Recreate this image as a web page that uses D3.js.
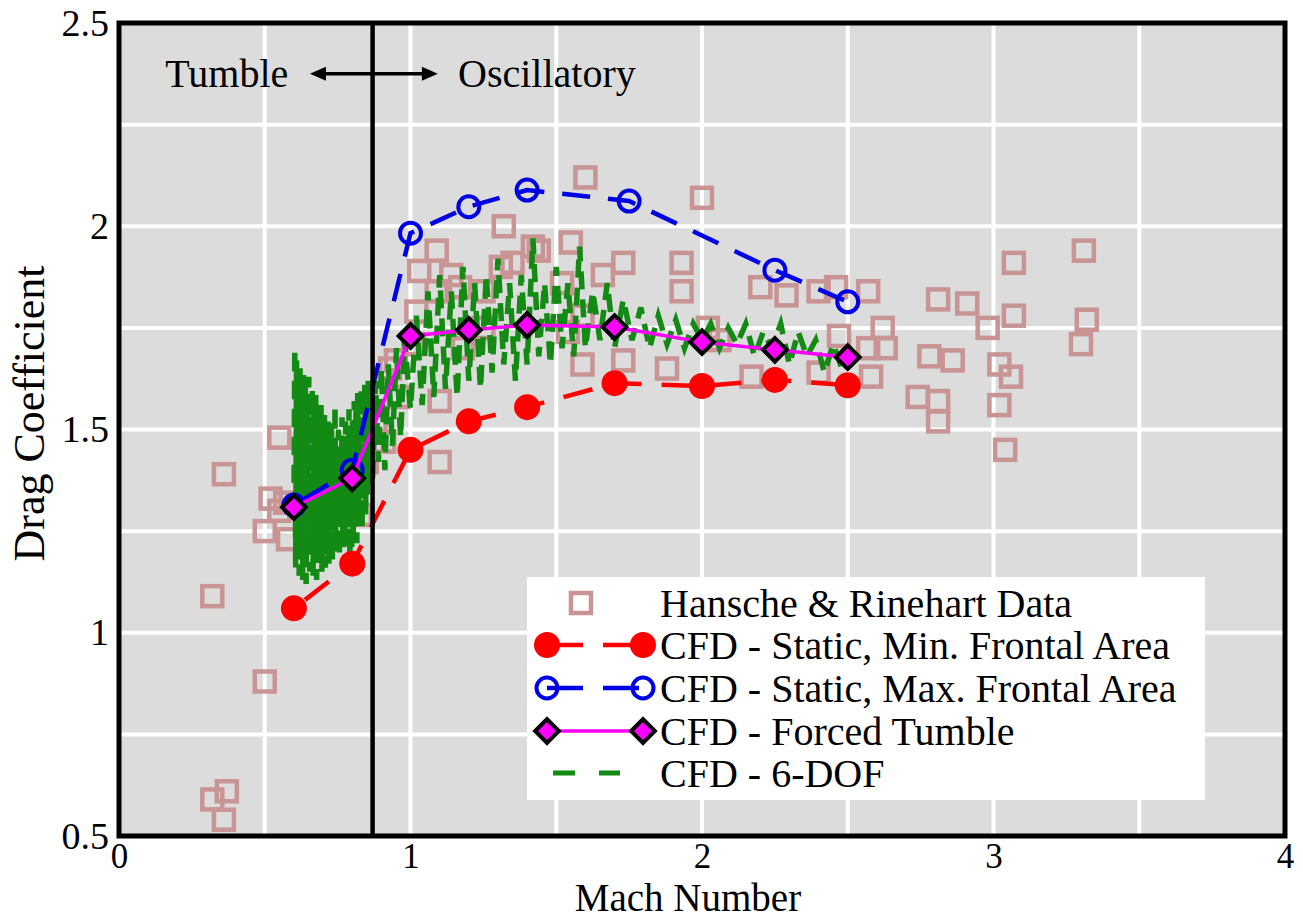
<!DOCTYPE html>
<html><head><meta charset="utf-8">
<script src="https://cdn.jsdelivr.net/npm/d3@7"></script>
<style>html,body{margin:0;padding:0;background:#fff;}</style>
</head><body>
<svg id="c" width="1303" height="919"></svg>
<script>
// ---------- data ----------
const xTicks = [0, 1, 2, 3, 4];
const yTicks = [0.5, 1, 1.5, 2, 2.5];
const xTickLabels = ["0", "1", "2", "3", "4"];
const yTickLabels = ["0.5", "1", "1.5", "2", "2.5"];

const seriesNames = ["Hansche & Rinehart Data", "CFD - Static, Min. Frontal Area", "CFD - Static, Max. Frontal Area", "CFD - Forced Tumble", "CFD - 6-DOF"];

const hanscheMach = [0.32,0.36,0.32,0.37,0.36,0.50,0.55,0.50,0.52,0.58,0.55,0.57,0.83,0.80,0.85,0.88,0.91,0.93,0.96,
  1.02,1.09,1.17,1.25,1.09,1.03,1.14,1.10,1.10,0.95,1.01,1.32,1.31,1.42,1.35,1.44,1.52,1.55,1.60,1.66,1.73,1.54,1.59,1.59,1.73,1.88,1.93,1.93,2.00,2.02,2.06,2.17,2.20,2.29,2.40,2.46,2.40,2.47,2.57,2.62,2.57,2.58,2.63,2.81,2.91,2.78,2.86,2.74,2.81,2.81,2.98,3.07,3.07,3.31,3.32,3.30,3.02,3.06,3.02,3.04,1.18,1.25];
const hanscheCd = [1.09,1.39,0.59,0.61,0.54,0.88,1.48,1.25,1.33,1.23,1.30,1.32,1.29,1.36,1.42,1.52,1.47,1.65,1.58,
  1.79,1.84,1.85,1.84,1.94,1.89,1.88,1.57,1.42,1.67,1.71,2.00,1.90,1.95,1.91,1.94,1.86,1.96,2.12,1.88,1.91,1.74,1.78,1.66,1.67,1.65,1.91,1.84,2.07,1.75,1.72,1.63,1.85,1.83,1.84,1.85,1.64,1.73,1.84,1.75,1.70,1.63,1.70,1.82,1.81,1.68,1.67,1.58,1.57,1.52,1.75,1.78,1.91,1.94,1.77,1.71,1.66,1.63,1.56,1.45,1.70,1.75];

const minMach = [0.6, 0.8, 1.0, 1.2, 1.4, 1.7, 2.0, 2.25, 2.5];
const minCd   = [1.06, 1.17, 1.45, 1.52, 1.555, 1.614, 1.607, 1.622, 1.609];

const maxMach = [0.6, 0.8, 1.0, 1.2, 1.4, 1.75, 2.25, 2.5];
const maxCd   = [1.314, 1.40, 1.983, 2.048, 2.089, 2.062, 1.892, 1.814];

const tumbleMach = [0.6, 0.8, 1.0, 1.2, 1.4, 1.7, 2.0, 2.25, 2.5];
const tumbleCd   = [1.309, 1.38, 1.73, 1.745, 1.757, 1.752, 1.715, 1.696, 1.678];

const dofMach = [
  0.600,0.603,0.606,0.609,0.612,0.615,0.618,0.621,0.624,0.627,
  0.630,0.633,0.636,0.639,0.642,0.645,0.648,0.651,0.654,0.657,
  0.660,0.663,0.666,0.669,0.672,0.675,0.678,0.681,0.684,0.687,
  0.690,0.693,0.696,0.699,0.702,0.705,0.708,0.711,0.714,0.717,
  0.720,0.723,0.726,0.729,0.732,0.735,0.738,0.741,0.744,0.747,
  0.750,0.753,0.756,0.759,0.762,0.765,0.768,0.771,0.774,0.777,
  0.780,0.783,0.786,0.789,0.792,0.795,0.798,0.801,0.804,0.807,
  0.810,0.813,0.816,0.819,0.822,0.825,0.828,0.831,0.834,0.837,
  0.840,0.843,0.846,0.849,0.852,0.855,0.858,0.861,
  0.870,0.880,0.890,0.900,0.912,0.924,0.938,0.952,0.966,0.980,
  1.000,1.020,1.040,1.060,1.080,1.100,1.120,1.140,1.160,1.180,1.200,1.220,1.240,1.260,1.280,1.300,1.320,1.340,1.360,1.380,1.400,1.420,1.440,1.460,1.480,1.500,1.520,1.540,1.560,1.580,1.600,1.625,1.650,1.675,1.700,
  1.730,1.760,1.790,1.820,1.850,1.880,1.910,1.940,1.970,2.000,2.030,2.060,2.090,2.120,2.150,2.180,2.210,2.240,2.270,2.300,2.330,2.360,2.390,2.420,2.450,2.480];
const dofCd = [
  1.30,1.70,1.16,1.67,1.20,1.63,1.14,1.66,1.22,1.60,
  1.13,1.64,1.18,1.62,1.12,1.58,1.21,1.63,1.15,1.57,
  1.19,1.60,1.14,1.55,1.22,1.59,1.13,1.54,1.18,1.52,
  1.21,1.56,1.15,1.50,1.19,1.54,1.16,1.49,1.24,1.53,
  1.17,1.47,1.21,1.52,1.18,1.48,1.25,1.56,1.20,1.46,
  1.22,1.50,1.19,1.45,1.26,1.53,1.21,1.47,1.24,1.52,
  1.20,1.46,1.27,1.55,1.18,1.50,1.13,1.52,1.24,1.57,
  1.28,1.55,1.22,1.59,1.27,1.53,1.30,1.60,1.25,1.56,
  1.32,1.61,1.29,1.57,1.34,1.62,1.36,1.58,
  1.38,1.62,1.42,1.65,1.40,1.66,1.46,1.70,1.48,1.72,
  1.55,1.78,1.56,1.84,1.58,1.88,1.60,1.84,1.58,1.90,1.62,1.86,1.60,1.88,1.64,1.92,1.66,1.86,1.62,1.88,1.66,1.97,1.68,1.86,1.66,1.90,1.70,1.86,1.68,1.95,1.70,1.84,1.72,1.86,1.70,
  1.82,1.72,1.80,1.70,1.78,1.71,1.77,1.70,1.76,1.72,1.76,1.70,1.75,1.71,1.76,1.68,1.74,1.70,1.76,1.66,1.74,1.68,1.72,1.64,1.71,1.65];

const boundaryMach = 0.87;
const annLeft = "Tumble", annRight = "Oscillatory";
const xTitle = "Mach Number", yTitle = "Drag Coefficient";

// ---------- drawing ----------
const FONT = "'Liberation Serif', 'Times New Roman', Tinos, 'DejaVu Serif', serif";
const svg = d3.select("#c").attr("font-family", FONT);
const X0 = 119, X1 = 1285, Y0 = 836, Y1 = 23;
const x = d3.scaleLinear().domain([0, 4]).range([X0, X1]);
const y = d3.scaleLinear().domain([0.5, 2.5]).range([Y0, Y1]);
const pink = "#c99494";

svg.append("rect").attr("x", X0).attr("y", Y1).attr("width", X1 - X0).attr("height", Y0 - Y1).attr("fill", "#dcdcdc");

// grid
const gx = d3.range(0.5, 4, 0.5), gy = d3.range(0.75, 2.5, 0.25);
svg.append("g").selectAll("line").data(gx).join("line")
  .attr("x1", d => x(d)).attr("x2", d => x(d)).attr("y1", Y1).attr("y2", Y0)
  .attr("stroke", "#fff").attr("stroke-width", 4);
svg.append("g").selectAll("line").data(gy).join("line")
  .attr("y1", d => y(d)).attr("y2", d => y(d)).attr("x1", X0).attr("x2", X1)
  .attr("stroke", "#fff").attr("stroke-width", 4);

const plot = svg.append("g");
// Hansche squares
const hs = 20;
plot.append("g").selectAll("rect").data(hanscheMach.map((m, i) => [m, hanscheCd[i]])).join("rect")
  .attr("x", d => x(d[0]) - hs / 2).attr("y", d => y(d[1]) - hs / 2).attr("width", hs).attr("height", hs)
  .attr("fill", "none").attr("stroke", pink).attr("stroke-width", 4.5);

const line = d3.line().x(d => x(d[0])).y(d => y(d[1]));
// 6-DOF
plot.append("path").datum(dofMach.map((m, i) => [m, dofCd[i]]))
  .attr("d", line).attr("fill", "none").attr("stroke", "#138a13").attr("stroke-width", 5.5)
  .attr("stroke-dasharray", "18,10");

// Red min
plot.append("path").datum(minMach.map((m, i) => [m, minCd[i]]))
  .attr("d", line).attr("fill", "none").attr("stroke", "#ff0000").attr("stroke-width", 4.5)
  .attr("stroke-dasharray", "30,20").attr("stroke-dashoffset", -14);
plot.append("g").selectAll("circle").data(minMach.map((m, i) => [m, minCd[i]])).join("circle")
  .attr("cx", d => x(d[0])).attr("cy", d => y(d[1])).attr("r", 13).attr("fill", "#ff0000");

// Blue max
plot.append("path").datum(maxMach.map((m, i) => [m, maxCd[i]]))
  .attr("d", line).attr("fill", "none").attr("stroke", "#0000e6").attr("stroke-width", 4.5)
  .attr("stroke-dasharray", "28,18").attr("stroke-dashoffset", -12);
plot.append("g").selectAll("circle").data(maxMach.map((m, i) => [m, maxCd[i]])).join("circle")
  .attr("cx", d => x(d[0])).attr("cy", d => y(d[1])).attr("r", 10.5)
  .attr("fill", "none").attr("stroke", "#0000e6").attr("stroke-width", 4);

// Forced tumble
plot.append("path").datum(tumbleMach.map((m, i) => [m, tumbleCd[i]]))
  .attr("d", line).attr("fill", "none").attr("stroke", "#ff00ff").attr("stroke-width", 3.5);
const dia = d3.symbol().type(d3.symbolSquare).size(280);
plot.append("g").selectAll("path").data(tumbleMach.map((m, i) => [m, tumbleCd[i]])).join("path")
  .attr("d", dia).attr("transform", d => `translate(${x(d[0])},${y(d[1])}) rotate(45)`)
  .attr("fill", "#ff00ff").attr("stroke", "#000").attr("stroke-width", 4);

// boundary line
svg.append("line").attr("x1", x(boundaryMach)).attr("x2", x(boundaryMach)).attr("y1", Y1).attr("y2", Y0)
  .attr("stroke", "#000").attr("stroke-width", 4.5);

// annotation
const annY = y(2.375);
svg.append("text").attr("x", x(0.37)).attr("y", annY + 13).attr("text-anchor", "middle")
  .attr("font-size", 40).text(annLeft);
svg.append("text").attr("x", x(1.163)).attr("y", annY + 13).attr("text-anchor", "start")
  .attr("font-size", 40).text(annRight);
const ax0 = x(0.655), ax1 = x(1.094);
svg.append("line").attr("x1", ax0 + 10).attr("x2", ax1 - 10).attr("y1", annY).attr("y2", annY)
  .attr("stroke", "#000").attr("stroke-width", 3.5);
svg.append("path").attr("d", `M${ax0},${annY} L${ax0 + 16},${annY - 7} L${ax0 + 16},${annY + 7} Z`).attr("fill", "#000");
svg.append("path").attr("d", `M${ax1},${annY} L${ax1 - 16},${annY - 7} L${ax1 - 16},${annY + 7} Z`).attr("fill", "#000");

// legend
const lg = svg.append("g");
lg.append("rect").attr("x", 527).attr("y", 577).attr("width", 678).attr("height", 223).attr("fill", "#fff");
const rowsY = [603, 645, 688, 731, 773];
const sx0 = 547, sx1 = 643, tx = 660;
seriesNames.forEach((n, i) => {
  lg.append("text").attr("x", tx).attr("y", rowsY[i] + 14).attr("font-size", 40).text(n);
});
lg.append("rect").attr("x", 581 - hs / 2).attr("y", rowsY[0] - hs / 2).attr("width", hs).attr("height", hs)
  .attr("fill", "none").attr("stroke", pink).attr("stroke-width", 4.5);
lg.append("line").attr("x1", sx0).attr("x2", sx1).attr("y1", rowsY[1]).attr("y2", rowsY[1])
  .attr("stroke", "#ff0000").attr("stroke-width", 4.5).attr("stroke-dasharray", "36,20");
lg.append("circle").attr("cx", sx0).attr("cy", rowsY[1]).attr("r", 13).attr("fill", "#ff0000");
lg.append("circle").attr("cx", sx1).attr("cy", rowsY[1]).attr("r", 13).attr("fill", "#ff0000");
lg.append("line").attr("x1", sx0).attr("x2", sx1).attr("y1", rowsY[2]).attr("y2", rowsY[2])
  .attr("stroke", "#0000e6").attr("stroke-width", 4.5).attr("stroke-dasharray", "36,20");
[sx0, sx1].forEach(cx => lg.append("circle").attr("cx", cx).attr("cy", rowsY[2]).attr("r", 10.5)
  .attr("fill", "none").attr("stroke", "#0000e6").attr("stroke-width", 4));
lg.append("line").attr("x1", sx0).attr("x2", sx1).attr("y1", rowsY[3]).attr("y2", rowsY[3])
  .attr("stroke", "#ff00ff").attr("stroke-width", 3.5);
[sx0, sx1].forEach(cx => lg.append("path").attr("d", dia)
  .attr("transform", `translate(${cx},${rowsY[3]}) rotate(45)`)
  .attr("fill", "#ff00ff").attr("stroke", "#000").attr("stroke-width", 4));
lg.append("line").attr("x1", 553).attr("x2", 620).attr("y1", rowsY[4]).attr("y2", rowsY[4])
  .attr("stroke", "#138a13").attr("stroke-width", 5).attr("stroke-dasharray", "22,24");

// frame
svg.append("rect").attr("x", X0).attr("y", Y1).attr("width", X1 - X0).attr("height", Y0 - Y1)
  .attr("fill", "none").attr("stroke", "#000").attr("stroke-width", 5);

// axes
const xAxis = d3.axisBottom(x).tickValues(xTicks).tickFormat((d, i) => xTickLabels[i]).tickSize(0).tickPadding(7);
const gxa = svg.append("g").attr("transform", `translate(0,${Y0})`).call(xAxis);
gxa.attr("font-family", FONT);
gxa.select(".domain").remove();
gxa.selectAll("text").attr("font-size", 35).attr("fill", "#000");
const yAxis = d3.axisLeft(y).tickValues(yTicks).tickFormat((d, i) => yTickLabels[i]).tickSize(0).tickPadding(10);
const gya = svg.append("g").attr("transform", `translate(${X0},0)`).call(yAxis);
gya.attr("font-family", FONT);
gya.select(".domain").remove();
gya.selectAll("text").attr("font-size", 38).attr("fill", "#000");

svg.append("text").attr("x", (X0 + X1) / 2 - 14).attr("y", 910.5).attr("text-anchor", "middle")
  .attr("font-size", 39).text(xTitle);
svg.append("text").attr("transform", `translate(44,${(Y0 + Y1) / 2 - 16}) rotate(-90)`).attr("text-anchor", "middle")
  .attr("font-size", 44).text(yTitle);
</script>
</body></html>
